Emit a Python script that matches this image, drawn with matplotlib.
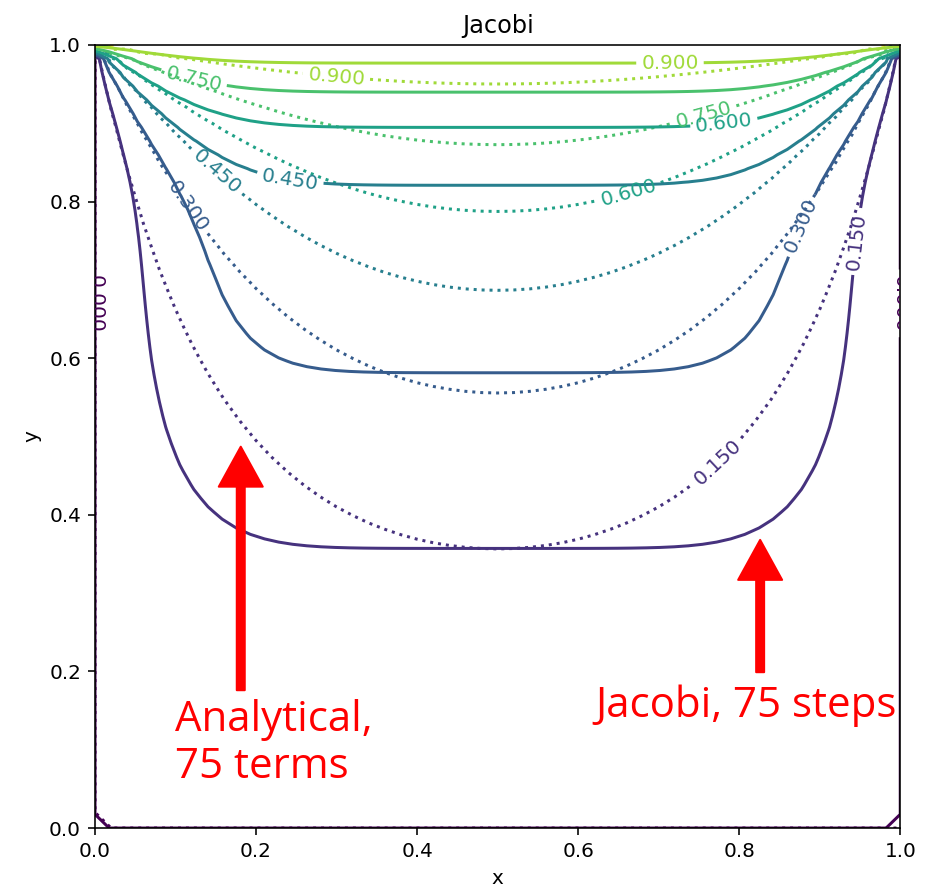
import numpy as np
import matplotlib
matplotlib.use("Agg")
import matplotlib.pyplot as plt

# contour levels (same for both fields)
levels = [0.0, 0.15, 0.30, 0.45, 0.60, 0.75, 0.90, 1.05]

n_terms = 75        # Fourier terms of the analytical series
n_steps = 75        # Jacobi sweeps
n_exact = 51        # grid points per side, analytical field
n_jac = 58          # grid points per side, Jacobi field

# starting guess of the Jacobi run, read off the flat middle of the solid lines
guess_y = [0.0, 0.20, 0.364, 0.50, 0.575, 0.70, 0.83, 0.90, 1.0]
guess_u = [0.0, 0.05, 0.145, 0.25, 0.32, 0.36, 0.40, 0.425, 0.44]

# where the contour labels sit
labels_exact = [(0.002, 0.67), (0.775, 0.465), (0.124, 0.80), (0.153, 0.84),
                (0.66, 0.82), (0.755, 0.915), (0.30, 0.962)]
labels_jac = [(0.998, 0.67), (0.938, 0.75), (0.876, 0.77), (0.245, 0.845),
              (0.78, 0.91), (0.124, 0.962), (0.714, 0.982)]


def analytical(x, y, terms):
    X, Y = np.meshgrid(x, y)
    u = np.zeros_like(X)
    for k in range(terms):
        m = 2 * k + 1
        # sinh(m pi y) / sinh(m pi), written so it does not overflow
        ratio = np.exp(m * np.pi * (Y - 1)) * (1 - np.exp(-2 * m * np.pi * Y)) / (1 - np.exp(-2 * m * np.pi))
        u += 4 / (m * np.pi) * np.sin(m * np.pi * X) * ratio
    return u


def jacobi(x, y, steps):
    u = np.tile(np.interp(y, guess_y, guess_u)[:, None], (1, len(x)))
    u[0, :] = 0
    u[:, 0] = 0
    u[:, -1] = 0
    u[-1, :] = 1
    for _ in range(steps):
        u[1:-1, 1:-1] = 0.25 * (u[:-2, 1:-1] + u[2:, 1:-1] + u[1:-1, :-2] + u[1:-1, 2:])
    return u


xe = np.linspace(0, 1, n_exact)
xj = np.linspace(0, 1, n_jac)
u_exact = analytical(xe, xe, n_terms)
u_jac = jacobi(xj, xj, n_steps)

fig = plt.figure(figsize=(926 / 144, 892 / 144), dpi=144)
ax = fig.add_axes([0.1026, 0.0717, 0.8696, 0.8779])

cs1 = ax.contour(xe, xe, u_exact, levels=levels, linestyles="dotted")
ax.clabel(cs1, fmt="%1.3f", fontsize=10, manual=labels_exact)
cs2 = ax.contour(xj, xj, u_jac, levels=levels)
ax.clabel(cs2, fmt="%1.3f", fontsize=10, manual=labels_jac)

ax.set_xlim(0, 1)
ax.set_ylim(0, 1)
ax.set_title("Jacobi")
ax.set_xlabel("x")
ax.set_ylabel("y")

# red call-outs
arrow = dict(facecolor="red", edgecolor="red", width=4, headwidth=22, headlength=20)
ax.annotate("", xy=(0.181, 0.487), xytext=(0.181, 0.176), arrowprops=arrow)
ax.annotate("", xy=(0.826, 0.368), xytext=(0.826, 0.199), arrowprops=arrow)
ax.text(0.099, 0.165, "Analytical,\n75 terms", color="red", fontsize=21,
        family="Open Sans", va="top", ha="left", linespacing=1.15)
ax.text(0.622, 0.142, "Jacobi, 75 steps", color="red", fontsize=21,
        family="Open Sans", va="baseline", ha="left")

fig.savefig("out.png", dpi=144)
